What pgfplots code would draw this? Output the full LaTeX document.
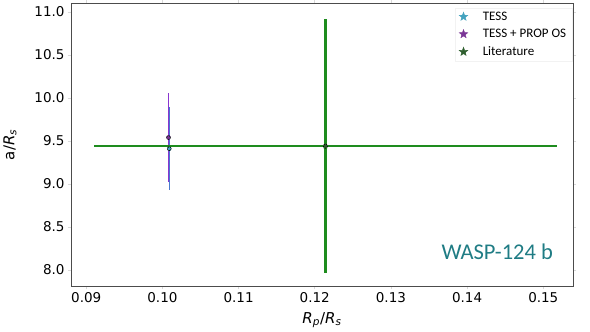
\documentclass[border=0pt]{standalone}
\usepackage{pgfplots}
\pgfplotsset{compat=1.18}
\usepackage{fontspec}
\setmainfont{DejaVu Sans}
\newfontfamily\carlito{Carlito}
\definecolor{tessmk}{HTML}{45A3BF}
\definecolor{tessbar}{HTML}{4A78D0}
\definecolor{propmk}{HTML}{7A3596}
\definecolor{propbar}{HTML}{8A35D0}
\definecolor{litmk}{HTML}{2F5F2F}
\definecolor{litbar}{HTML}{1E8C1E}
\definecolor{wasp}{HTML}{1F7C84}
\pgfdeclareplotmark{fstar}{%
  \pgfpathmoveto{\pgfpointpolar{90}{\pgfplotmarksize}}%
  \pgfpathlineto{\pgfpointpolar{126}{0.42\pgfplotmarksize}}%
  \pgfpathlineto{\pgfpointpolar{162}{\pgfplotmarksize}}%
  \pgfpathlineto{\pgfpointpolar{198}{0.42\pgfplotmarksize}}%
  \pgfpathlineto{\pgfpointpolar{234}{\pgfplotmarksize}}%
  \pgfpathlineto{\pgfpointpolar{270}{0.42\pgfplotmarksize}}%
  \pgfpathlineto{\pgfpointpolar{306}{\pgfplotmarksize}}%
  \pgfpathlineto{\pgfpointpolar{342}{0.42\pgfplotmarksize}}%
  \pgfpathlineto{\pgfpointpolar{18}{\pgfplotmarksize}}%
  \pgfpathlineto{\pgfpointpolar{54}{0.42\pgfplotmarksize}}%
  \pgfpathclose
  \pgfusepathqfillstroke}
\pgfplotstableread{
x y ex ey
0.1009 9.41 0 0.48
}\tess
\pgfplotstableread{
x y ex ey
0.1008 9.54 0 0.52
}\prop
\pgfplotstableread{
x y ex ey
0.1214 9.44 0.0304 1.48
}\lit
\begin{document}
\begin{tikzpicture}
\begin{axis}[
  scale only axis,
  width=502bp, height=283bp,
  xmin=0.0880, xmax=0.1539,
  ymin=7.81, ymax=11.10,
  xtick={0.09,0.10,0.11,0.12,0.13,0.14,0.15},
  ytick={8.0,8.5,9.0,9.5,10.0,10.5,11.0},
  xticklabel style={/pgf/number format/.cd,fixed,fixed zerofill,precision=2},
  yticklabel style={/pgf/number format/.cd,fixed,fixed zerofill,precision=1},
  /pgf/number format/assume math mode=true,
  tick label style={font=\fontsize{13.5bp}{15bp}\selectfont},
  tick align=outside,
  major tick length=3bp,
  tick style={gray!30, line width=0.6bp},
  axis line style={black!70, line width=0.8bp},
  xlabel={\textit{R}\textsubscript{\textit{p}}/\textit{R}\textsubscript{\textit{s}}},
  ylabel={a/\textit{R}\textsubscript{\textit{s}}},
  label style={font=\fontsize{15bp}{17bp}\selectfont},
  xlabel style={yshift=-3bp},
  ylabel style={yshift=11bp},
  legend style={at={(rel axis cs:0.765,0.985)}, anchor=north west,
    draw=gray!10, fill=white, font=\carlito\fontsize{13bp}{15bp}\selectfont,
    row sep=3.5bp, inner xsep=4bp, inner ysep=2bp,
    /tikz/every odd column/.append style={column sep=13bp}},
  legend cell align=left,
  legend image code/.code={\draw[#1, mark size=4.5bp] plot coordinates {(0.36cm,0cm)};},
]
% error bars (no legend)
\addplot[forget plot, only marks, mark=none, draw=none,
  error bars/.cd, y dir=both, y explicit,
  error mark=none, error bar style={draw=tessbar, line width=1.4bp}]
  table[x=x, y=y, y error=ey] {\tess};
\addplot[forget plot, only marks, mark=none, draw=none,
  error bars/.cd, y dir=both, y explicit,
  error mark=none, error bar style={draw=propbar, line width=1.4bp}]
  table[x=x, y=y, y error=ey] {\prop};
% literature: value +/- its errors
\addplot[forget plot, only marks, mark=none, draw=none,
  error bars/.cd, y dir=both, y explicit,
  error mark=none, error bar style={draw=litbar, line width=2.2bp}]
  table[x=x, y=y, y error=ey] {\lit};
\addplot[forget plot, only marks, mark=none, draw=none,
  error bars/.cd, x dir=both, x explicit,
  error mark=none, error bar style={draw=litbar, line width=1.2bp}]
  table[x=x, y=y, x error=ex] {\lit};
% markers with legend
\addplot[only marks, mark=fstar, mark size=1.8bp, color=tessmk] table[x=x, y=y] {\tess};
\addlegendentry{TESS}
\addplot[only marks, mark=fstar, mark size=1.8bp, color=propmk] table[x=x, y=y] {\prop};
\addlegendentry{TESS + PROP OS}
\addplot[only marks, mark=fstar, mark size=2.5bp, color=litmk] table[x=x, y=y] {\lit};
\addlegendentry{Literature}
\node[font=\carlito\fontsize{22.5bp}{24bp}\selectfont, text=wasp] at (axis cs:0.14395,8.215) {WASP-124 b};
\end{axis}
\path[use as bounding box] ([shift={(-71bp,-45bp)}]current axis.south west) rectangle ([shift={(17bp,3bp)}]current axis.north east);
\end{tikzpicture}
\end{document}
